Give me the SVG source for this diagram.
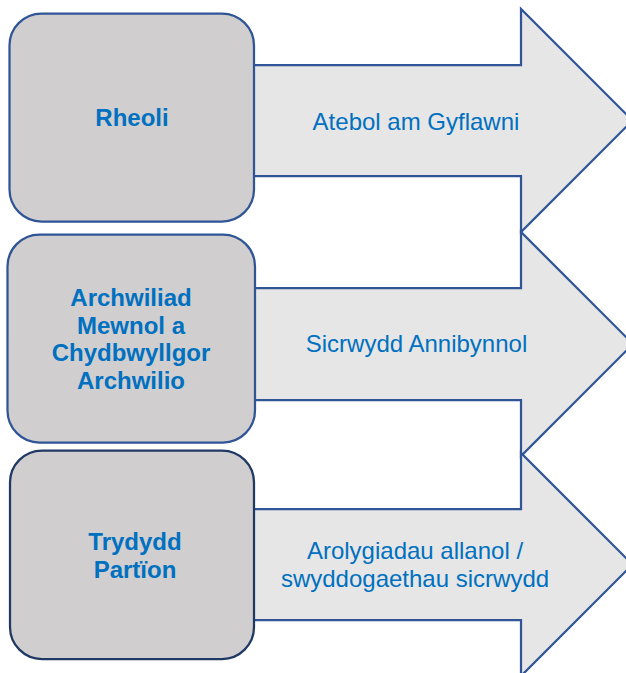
<svg xmlns="http://www.w3.org/2000/svg" width="626" height="673" viewBox="0 0 626 673">
<style>
.arrow{fill:#e6e6e6;stroke:#2f5597;stroke-width:2.25;stroke-linejoin:miter}
.box{fill:#d0cece;stroke:#2f5597;stroke-width:2.25}
.box3{fill:#d0cece;stroke:#203864;stroke-width:2.25}
.bt{font-family:"Liberation Sans",Arial,sans-serif;font-weight:bold;font-size:24px;fill:#0070c0;text-anchor:middle}
.at{font-family:"Liberation Sans",Arial,sans-serif;font-size:24px;fill:#0070c0;text-anchor:middle}
</style>
<rect width="626" height="673" fill="#ffffff"/>
<g id="connectors">
<path class="arrow" d="M200,65 H521 V9 L632.5,120.5 L521,232 V176 H200 Z"/>
<path class="arrow" d="M200,288 H521 V232 L633,344 L521,456 V400 H200 Z"/>
<path class="arrow" d="M200,509 H521 V453 L632.5,564.5 L521,676 V620 H200 Z"/>
</g>
<g id="node-rheoli">
<rect class="box" x="9.5" y="13.5" width="244.5" height="208" rx="32" ry="32"/>
<text class="bt" x="132" y="126">Rheoli</text>
</g>
<g id="node-archwiliad">
<rect class="box" x="7.5" y="234.5" width="247.5" height="208" rx="32" ry="32"/>
<text class="bt" x="131" y="306">Archwiliad</text>
<text class="bt" x="131" y="333.5">Mewnol a</text>
<text class="bt" x="131" y="361">Chydbwyllgor</text>
<text class="bt" x="131" y="388.5">Archwilio</text>
</g>
<g id="node-trydydd">
<rect class="box3" x="10" y="450.5" width="244" height="208.5" rx="32" ry="32"/>
<text class="bt" x="135" y="550">Trydydd</text>
<text class="bt" x="135" y="578">Partïon</text>
</g>
<g id="label-1">
<text class="at" x="416" y="130">Atebol am Gyflawni</text>
</g>
<g id="label-2">
<text class="at" x="416.5" y="352">Sicrwydd Annibynnol</text>
</g>
<g id="label-3">
<text class="at" x="415" y="559">Arolygiadau allanol /</text>
<text class="at" x="415" y="587">swyddogaethau sicrwydd</text>
</g>
</svg>
